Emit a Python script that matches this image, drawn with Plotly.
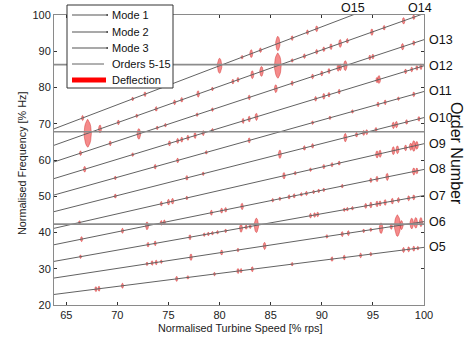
import numpy as np
import plotly.graph_objects as go

# ---------------- data ----------------
speed_min, speed_max = 63.8, 100.0
order_numbers = [5, 6, 7, 8, 9, 10, 11, 12, 13, 14, 15]
# frequency [% Hz] of each order line at 100 % speed
order_freq_at_full_speed = [35.9, 43.0, 50.2, 57.4, 64.5, 71.7, 78.9, 86.0, 93.2, 100.4, 107.5]

mode_names = ["Mode 1", "Mode 2", "Mode 3"]
mode_freqs = [42.3, 67.8, 86.3]

legend_labels = ["Mode 1", "Mode 2", "Mode 3", "Orders 5-15", "Deflection"]

x_ticks = [65, 70, 75, 80, 85, 90, 95, 100]
y_ticks = [20, 30, 40, 50, 60, 70, 80, 90, 100]

# deflection observations: speed [% rps] and amplitude (vertical extent, % Hz)
defl_O5_speed = [67.9, 68.2, 70.5, 75.8, 76.9, 79.5, 81.8, 82.1, 83.2, 87.1, 91.0, 92.2, 93.8, 94.8, 98.0, 98.5, 99.0, 99.4]
defl_O5_amp = [1.4, 1.4, 1.4, 1.4, 1.0, 1.0, 1.4, 1.2, 1.4, 1.0, 1.3, 1.3, 1.3, 1.0, 1.4, 1.4, 1.4, 1.0]

defl_O6_speed = [72.9, 73.4, 73.8, 74.3, 77.2, 80.2, 81.8, 84.4, 90.5, 92.0, 92.6, 94.1, 94.8, 95.8, 96.8, 97.4, 97.8, 98.8, 99.2, 99.7]
defl_O6_amp = [1.0, 1.3, 1.3, 1.0, 1.8, 1.4, 1.0, 2.0, 1.0, 1.4, 1.4, 1.0, 1.0, 3.0, 1.5, 6.0, 2.5, 3.0, 3.0, 2.5]

defl_O7_speed = [66.4, 73.0, 73.7, 77.1, 78.5, 78.9, 79.3, 79.8, 80.6, 82.1, 82.6, 83.0, 83.6, 88.9, 89.3, 89.6,
                 92.2, 92.5, 93.0, 94.3, 94.8, 95.4, 95.7, 96.2, 96.9, 97.5, 98.5, 99.0]
defl_O7_amp = [1.0, 1.3, 1.3, 1.4, 1.0, 1.0, 1.0, 1.0, 1.0, 2.3, 1.2, 1.2, 4.0, 1.3, 1.3, 1.3,
               1.0, 1.0, 1.0, 1.4, 1.6, 1.6, 1.4, 1.6, 1.6, 1.4, 1.4, 1.4]

defl_O8_speed = [66.5, 70.5, 72.9, 74.3, 74.6, 79.2, 80.2, 80.6, 82.2, 85.2, 85.9, 86.8, 87.3, 88.0, 88.5, 89.2,
                 89.7, 90.2, 92.0, 94.8, 95.4, 96.4, 99.0, 99.3]
defl_O8_amp = [1.4, 1.4, 2.2, 1.3, 1.3, 1.4, 1.4, 1.3, 1.8, 1.0, 1.0, 1.2, 1.2, 1.0, 1.2, 1.0,
               1.0, 1.0, 1.0, 1.3, 1.5, 2.0, 2.0, 1.6]

defl_O9_speed = [66.3, 74.3, 75.0, 75.4, 76.8, 86.3, 87.4, 88.9, 90.2, 91.0, 91.7, 95.4, 95.7, 97.0, 97.4, 98.2, 98.7, 99.0, 99.3]
defl_O9_amp = [1.0, 1.3, 1.6, 1.6, 1.0, 1.8, 1.0, 1.0, 1.2, 1.2, 1.2, 2.0, 2.0, 2.2, 2.2, 1.6, 2.0, 3.0, 2.2]

defl_O10_speed = [69.8, 76.8, 78.4, 85.9, 88.3, 89.1, 92.3, 93.4, 94.1, 94.4, 95.3, 97.0, 97.3, 98.3, 99.5]
defl_O10_amp = [1.2, 1.3, 1.0, 2.3, 1.3, 1.3, 2.3, 1.3, 1.4, 1.4, 1.3, 1.8, 1.8, 1.3, 1.3]

defl_O11_speed = [69.8, 73.7, 75.9, 78.7, 82.9, 89.1, 90.8, 93.0, 95.5, 96.2, 97.5, 99.0]
defl_O11_amp = [1.0, 1.3, 1.3, 1.0, 1.4, 1.0, 1.0, 1.0, 1.3, 1.3, 1.0, 1.3]

defl_O12_speed = [66.8, 71.5, 75.1, 75.9, 76.3, 76.9, 77.6, 78.4, 79.3, 82.3, 82.9, 83.6, 89.4, 90.2, 90.7, 91.7,
                  95.4, 95.6, 98.2, 98.8, 99.3, 99.7]
defl_O12_amp = [1.6, 1.0, 1.4, 1.4, 1.4, 1.4, 1.6, 1.4, 1.0, 1.4, 1.6, 2.0, 1.3, 1.6, 1.3, 1.3,
                1.5, 2.2, 1.3, 1.3, 1.3, 1.6]

defl_O13_speed = [66.4, 69.3, 72.1, 73.9, 74.7, 77.8, 79.3, 82.9, 85.5, 87.1, 89.1, 90.0, 90.7, 91.6, 91.8, 92.3,
                  94.7, 95.0, 97.9, 99.0]
defl_O13_amp = [1.3, 1.3, 3.0, 1.0, 1.0, 1.0, 1.0, 1.3, 2.2, 1.3, 1.3, 1.4, 1.4, 1.8, 1.8, 2.8,
                1.3, 1.3, 1.8, 1.3]

defl_O14_speed = [67.1, 68.3, 70.1, 71.9, 73.8, 75.6, 76.3, 77.9, 79.3, 81.3, 81.8, 83.2, 84.1, 85.7, 87.1, 88.3,
                  89.5, 90.2, 90.9, 91.8, 92.5, 94.9, 96.1, 98.0, 99.0]
defl_O14_amp = [7.7, 2.2, 1.3, 1.0, 1.3, 1.3, 1.3, 1.8, 1.0, 1.3, 1.3, 2.2, 2.8, 7.0, 1.0, 1.3,
                1.3, 1.3, 1.6, 2.2, 1.3, 1.8, 1.3, 1.8, 1.3]

defl_O15_speed = [66.6, 71.5, 72.7, 80.0, 82.2, 83.1, 84.0, 85.7, 87.1, 88.6, 89.5]
defl_O15_amp = [1.4, 1.0, 1.3, 4.2, 1.0, 2.2, 1.3, 4.0, 1.3, 1.3, 1.6]

defl_speed = [defl_O5_speed, defl_O6_speed, defl_O7_speed, defl_O8_speed, defl_O9_speed, defl_O10_speed,
              defl_O11_speed, defl_O12_speed, defl_O13_speed, defl_O14_speed, defl_O15_speed]
defl_amp = [defl_O5_amp, defl_O6_amp, defl_O7_amp, defl_O8_amp, defl_O9_amp, defl_O10_amp,
            defl_O11_amp, defl_O12_amp, defl_O13_amp, defl_O14_amp, defl_O15_amp]

# ---------------- figure ----------------
FONT = "Arial, 'Liberation Sans', sans-serif"
W, H = 474, 342
ML, MR, MT, MB = 54, 50, 15, 37
PW, PH = W - ML - MR, H - MT - MB


def px_x(px):  # pixel -> paper x
    return (px - ML) / PW


def px_y(py):  # pixel -> paper y
    return (H - MB - py) / PH


fig = go.Figure()

# deflection blobs (lens shaped polygons centred on the order lines)
t = np.linspace(0, 2 * np.pi, 25)
bx, by = [], []
for f100, speeds, amps in zip(order_freq_at_full_speed, defl_speed, defl_amp):
    for s, a in zip(speeds, amps):
        fc = f100 * s / 100.0
        hh = a / 2.0
        hw = (0.6 + 0.11 * a * 3.625) / 10.27
        c = np.cos(t)
        xs = s + hw * np.sign(c) * np.abs(c) ** 1.4
        ys = fc + hh * np.sin(t)
        bx += list(xs) + [None]
        by += list(ys) + [None]

fig.add_trace(go.Scatter(x=bx, y=by, mode="lines", fill="toself",
                         fillcolor="rgba(238,62,62,0.60)",
                         line=dict(width=0.6, color="rgba(205,40,40,0.75)"),
                         showlegend=False, hoverinfo="skip"))

# order lines
ox, oy = [], []
for f100 in order_freq_at_full_speed:
    ox += [speed_min, speed_max, None]
    oy += [f100 * speed_min / 100.0, f100 * speed_max / 100.0, None]
fig.add_trace(go.Scatter(x=ox, y=oy, mode="lines", name="Orders 5-15",
                         line=dict(color="#626262", width=1), showlegend=False, hoverinfo="skip"))

# mode lines
for nm, mf in zip(mode_names, mode_freqs):
    fig.add_trace(go.Scatter(x=[speed_min, speed_max], y=[mf, mf], mode="lines", name=nm,
                             line=dict(color="#8c8c8c", width=1.6), showlegend=False, hoverinfo="skip"))

# order labels
ann = []
for k, f100 in zip(order_numbers, order_freq_at_full_speed):
    if f100 < 100:
        ann.append(dict(x=speed_max, y=f100, xref="x", yref="y", text=f"O{k}", showarrow=False,
                        xanchor="left", yanchor="middle", xshift=3,
                        font=dict(size=12.5, color="#111", family=FONT)))
    else:
        s_top = 100.0 / f100 * 100.0
        ann.append(dict(x=s_top, y=100, xref="x", yref="y", text=f"O{k}", showarrow=False,
                        xanchor="center", yanchor="middle", yshift=7,
                        font=dict(size=12.5, color="#111", family=FONT)))

ann.append(dict(x=px_x(457), y=px_y(153), xref="paper", yref="paper", text="Order Number", showarrow=False,
                textangle=90, xanchor="center", yanchor="middle",
                font=dict(size=16, color="#111", family=FONT)))
ann.append(dict(x=px_x(240), y=px_y(328), xref="paper", yref="paper", text="Normalised Turbine Speed [% rps]",
                showarrow=False, xanchor="center", yanchor="middle",
                font=dict(size=10.8, color="#222", family=FONT)))
ann.append(dict(x=px_x(22), y=px_y(164), xref="paper", yref="paper", text="Normalised Frequency [% Hz]",
                showarrow=False, textangle=-90, xanchor="center", yanchor="middle",
                font=dict(size=10.8, color="#222", family=FONT)))

# legend box (drawn by hand to match the compact spacing of the original)
shapes = [dict(type="rect", xref="paper", yref="paper", x0=px_x(67), x1=px_x(173), y0=px_y(88), y1=px_y(5),
               fillcolor="white", line=dict(color="#333", width=1), layer="above")]
row_y = [15, 32, 48, 64, 80]
for i, (lab, ry) in enumerate(zip(legend_labels, row_y)):
    if i < 3:
        shapes.append(dict(type="line", xref="paper", yref="paper", x0=px_x(72), x1=px_x(107),
                           y0=px_y(ry), y1=px_y(ry), line=dict(color="#8c8c8c", width=1.6), layer="above"))
        shapes.append(dict(type="rect", xref="paper", yref="paper", x0=px_x(106.5), x1=px_x(108),
                           y0=px_y(ry + 0.8), y1=px_y(ry - 0.8), fillcolor="#222", line=dict(width=0),
                           layer="above"))
    elif i == 3:
        shapes.append(dict(type="line", xref="paper", yref="paper", x0=px_x(72), x1=px_x(104),
                           y0=px_y(ry), y1=px_y(ry), line=dict(color="#626262", width=1), layer="above"))
    else:
        shapes.append(dict(type="rect", xref="paper", yref="paper", x0=px_x(72), x1=px_x(106),
                           y0=px_y(ry + 2.5), y1=px_y(ry - 2.5), fillcolor="#ff0000", line=dict(width=0),
                           layer="above"))
    ann.append(dict(x=px_x(110), y=px_y(ry), xref="paper", yref="paper", text=lab, showarrow=False,
                    xanchor="left", yanchor="middle", font=dict(size=11, color="#111", family=FONT)))

axis_common = dict(showgrid=False, zeroline=False, showline=True, linecolor="#8a8a8a", linewidth=1,
                   mirror="ticks", ticks="inside", ticklen=3, tickcolor="#333", tickwidth=1,
                   tickfont=dict(size=11, color="#222", family=FONT))

fig.update_layout(
    width=W, height=H,
    margin=dict(l=ML, r=MR, t=MT, b=MB, autoexpand=False),
    paper_bgcolor="white", plot_bgcolor="white",
    font=dict(family=FONT, size=11, color="#222"),
    xaxis=dict(range=[speed_min, speed_max], tickvals=x_ticks, **axis_common),
    yaxis=dict(range=[20, 100], tickvals=y_ticks, **axis_common),
    annotations=ann,
    shapes=shapes,
    showlegend=False,
)

fig.write_html("out.html")
